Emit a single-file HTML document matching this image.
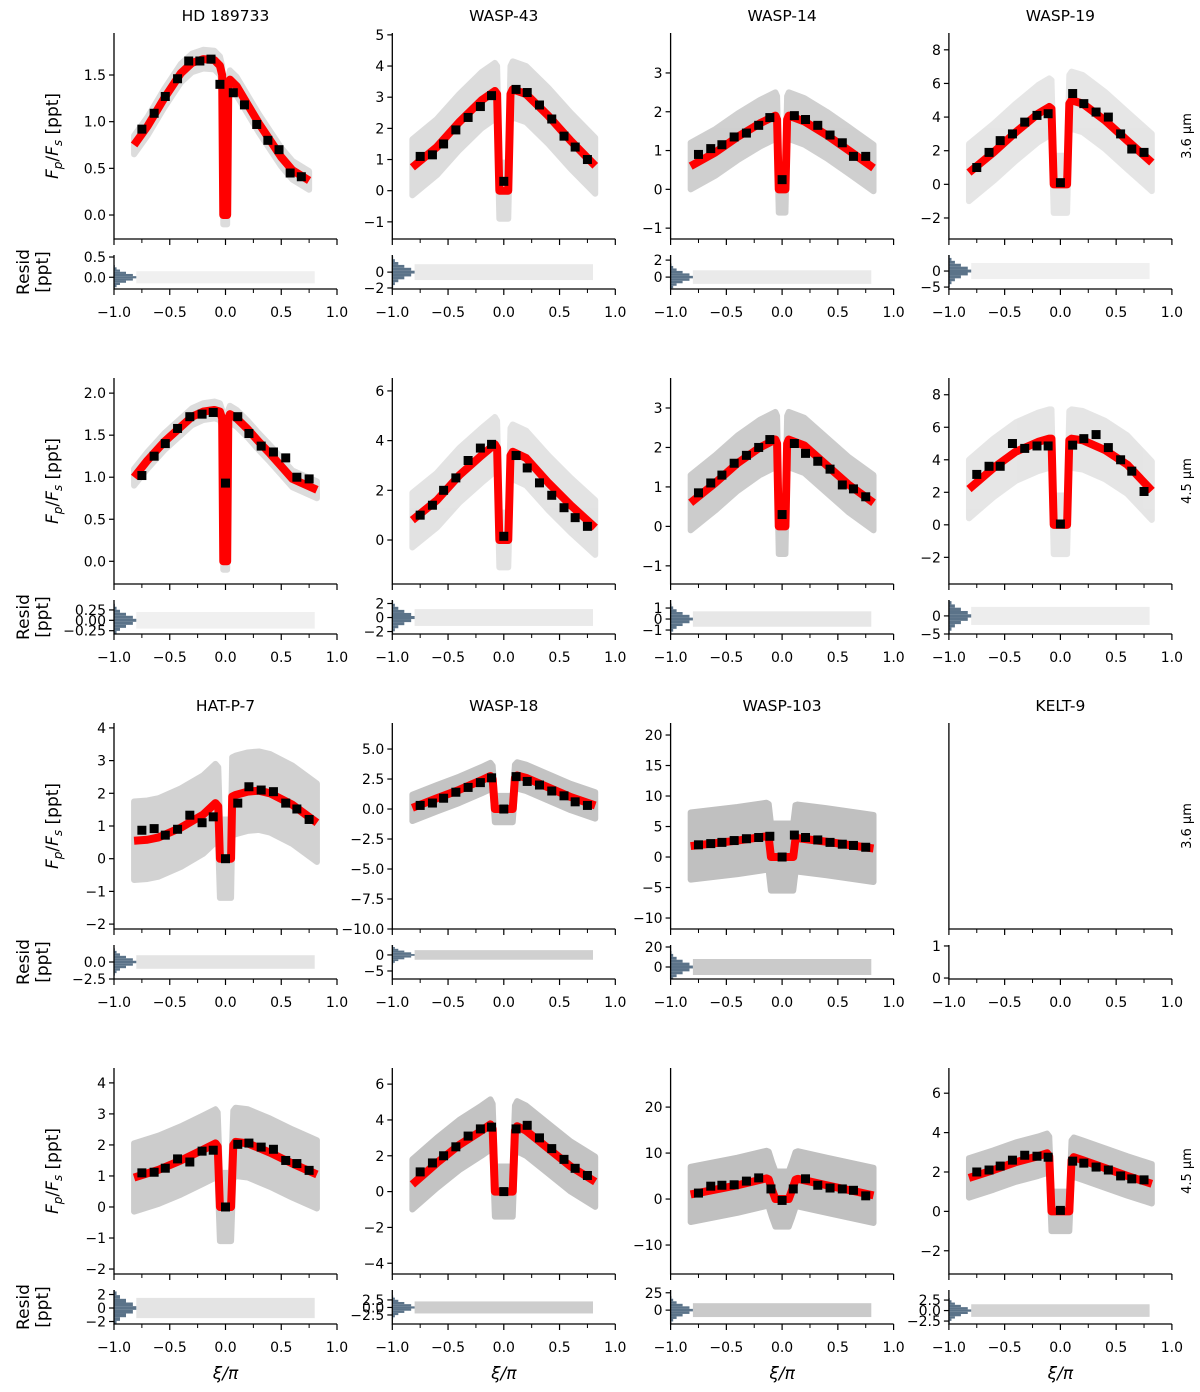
<!DOCTYPE html>
<html><head><meta charset="utf-8">
<style>
html,body{margin:0;padding:0;background:#fff;}
svg{display:block;font-family:"DejaVu Sans","Liberation Sans",sans-serif;}
</style></head>
<body>
<svg id="fig" width="1200" height="1392" viewBox="0 0 1200 1392" xmlns="http://www.w3.org/2000/svg"></svg>
<script>
// ---------- data ----------
const planetNames = ["HD 189733","WASP-43","WASP-14","WASP-19","HD 189733","WASP-43","WASP-14","WASP-19",
                     "HAT-P-7","WASP-18","WASP-103","KELT-9","HAT-P-7","WASP-18","WASP-103","KELT-9"];
const titleTexts = ["HD 189733","WASP-43","WASP-14","WASP-19","","","","","HAT-P-7","WASP-18","WASP-103","KELT-9","","","",""];
const yLimits = [[-0.257,1.95],[-1.55,5.06],[-1.28,4.03],[-3.25,9.0],
                 [-0.27,2.18],[-1.77,6.52],[-1.46,3.76],[-3.64,9.03],
                 [-2.15,4.15],[-10,7.17],[-11.8,21.97],[0,1],
                 [-2.16,4.48],[-4.6,6.9],[-16.3,28.5],[-3.18,7.28]];
const yTicks = [[0,0.5,1,1.5],[-1,0,1,2,3,4,5],[-1,0,1,2,3],[-2,0,2,4,6,8],
                [0,0.5,1,1.5,2],[0,2,4,6],[-1,0,1,2,3],[-2,0,2,4,6,8],
                [-2,-1,0,1,2,3,4],[-10,-7.5,-5,-2.5,0,2.5,5],[-10,-5,0,5,10,15,20],[],
                [-2,-1,0,1,2,3,4],[-4,-2,0,2,4,6],[-10,0,10,20],[-2,0,2,4,6]];
const yDecimals = [1,0,0,0, 1,0,0,0, 0,1,0,0, 0,0,0,0];
const residLimits = [[-0.29,0.55],[-2.13,2.16],[-1.4,2.6],[-5.6,5],
                     [-0.33,0.49],[-2.35,2.5],[-1.36,1.73],[-5,4.4],
                     [-2.5,2.5],[-7.5,3.1],[-12,22],[-0.03,1.03],
                     [-2.37,2.67],[-5.5,5.8],[-20,29],[-3.2,4.9]];
const residTicks = [[0,0.5],[-2,0],[0,2],[-5,0],
                    [-0.25,0,0.25],[-2,0,2],[-1,0,1],[-5,0],
                    [-2.5,0],[-5,0],[0,20],[0,1],
                    [-2,0,2],[-2.5,0,2.5],[0,25],[-2.5,0,2.5]];
const residDecimals = [1,0,0,0, 2,0,0,0, 1,0,0,0, 0,1,0,1];
const modelX = [
 [-0.82,-0.7,-0.55,-0.4,-0.3,-0.2,-0.1,-0.05,-0.03,-0.02,0.015,0.025,0.04,0.1,0.2,0.3,0.4,0.5,0.6,0.75],
 [-0.82,-0.6,-0.4,-0.2,-0.08,-0.06,-0.04,0.04,0.06,0.08,0.2,0.4,0.6,0.82],
 [-0.82,-0.6,-0.4,-0.2,-0.06,-0.045,-0.03,0.03,0.045,0.06,0.2,0.4,0.6,0.82],
 [-0.82,-0.6,-0.4,-0.2,-0.1,-0.08,-0.06,0.06,0.08,0.1,0.2,0.4,0.6,0.82],
 [-0.82,-0.7,-0.55,-0.4,-0.3,-0.2,-0.1,-0.05,-0.03,-0.02,0.015,0.025,0.04,0.1,0.2,0.3,0.4,0.5,0.6,0.82],
 [-0.82,-0.6,-0.4,-0.2,-0.08,-0.06,-0.04,0.04,0.06,0.08,0.2,0.4,0.6,0.82],
 [-0.82,-0.6,-0.4,-0.2,-0.06,-0.045,-0.03,0.03,0.045,0.06,0.2,0.4,0.6,0.82],
 [-0.82,-0.6,-0.4,-0.2,-0.1,-0.08,-0.06,0.06,0.08,0.1,0.2,0.4,0.6,0.82],
 [-0.82,-0.7,-0.6,-0.4,-0.2,-0.09,-0.065,-0.05,0.05,0.06,0.09,0.2,0.3,0.4,0.6,0.82],
 [-0.82,-0.6,-0.4,-0.2,-0.12,-0.1,-0.08,0.08,0.1,0.12,0.2,0.4,0.6,0.82],
 [-0.82,-0.4,-0.14,-0.12,-0.1,0.1,0.12,0.14,0.4,0.82],
 [],
 [-0.82,-0.6,-0.4,-0.2,-0.09,-0.07,-0.05,0.05,0.07,0.09,0.2,0.4,0.6,0.82],
 [-0.82,-0.6,-0.4,-0.2,-0.12,-0.1,-0.08,0.08,0.1,0.12,0.2,0.4,0.6,0.82],
 [-0.82,-0.4,-0.14,-0.12,-0.09,-0.06,0.06,0.09,0.12,0.14,0.4,0.82],
 [-0.82,-0.6,-0.4,-0.2,-0.12,-0.1,-0.08,0.08,0.1,0.12,0.2,0.4,0.6,0.82]];
const modelY = [
 [0.75,0.95,1.25,1.52,1.63,1.67,1.66,1.6,1.5,0.0,0.0,1.38,1.45,1.38,1.18,0.98,0.8,0.62,0.48,0.37],
 [0.75,1.4,2.2,2.9,3.2,3.1,0,0,3.1,3.25,3.1,2.4,1.6,0.8],
 [0.6,0.95,1.35,1.7,1.9,1.8,0,0,1.8,1.9,1.75,1.4,1.0,0.55],
 [0.7,1.9,3.1,4.2,4.6,4.5,0,0,4.8,5.0,4.8,3.8,2.6,1.3],
 [1.0,1.2,1.42,1.6,1.72,1.78,1.8,1.78,1.7,0,0,1.7,1.75,1.7,1.57,1.42,1.28,1.13,0.98,0.85],
 [0.8,1.6,2.6,3.4,3.85,3.7,0,0,3.4,3.55,3.3,2.3,1.4,0.5],
 [0.6,1.1,1.6,2.0,2.2,2.1,0,0,2.1,2.2,2.05,1.55,1.05,0.6],
 [2.2,3.5,4.5,5.1,5.3,5.3,0,0,5.2,5.3,5.2,4.6,3.7,2.1],
 [0.55,0.58,0.65,0.95,1.35,1.7,1.6,0,0,1.9,1.95,2.05,2.08,2.0,1.65,1.1],
 [0.1,0.9,1.6,2.4,2.75,2.5,0,0,2.6,2.8,2.6,1.8,1.0,0.3],
 [1.8,2.7,3.4,3.2,0,0,3.0,3.1,2.5,1.4],
 [],
 [0.95,1.2,1.5,1.85,2.05,1.95,0,0,2.0,2.1,2.05,1.75,1.4,1.05],
 [0.4,1.6,2.6,3.4,3.75,3.5,0,0,3.4,3.65,3.4,2.4,1.4,0.55],
 [1.0,3.0,4.5,4.3,2,0,0,2,4.2,4.4,3.0,0.8],
 [1.7,2.1,2.5,2.8,2.95,2.8,0,0,2.6,2.75,2.6,2.2,1.8,1.4]];
const binXUniform = [-0.75,-0.64,-0.54,-0.43,-0.32,-0.21,-0.11,0,0.11,0.21,0.32,0.43,0.54,0.64,0.75];
const binXHD = [-0.75,-0.64,-0.54,-0.43,-0.33,-0.23,-0.13,-0.05,0.07,0.17,0.28,0.38,0.48,0.58,0.68];
const binXW103 = [-0.75,-0.64,-0.54,-0.43,-0.32,-0.21,-0.1,0,0.1,0.21,0.32,0.43,0.54,0.64,0.75];
const binY = [
 [0.92,1.09,1.27,1.46,1.65,1.65,1.67,1.40,1.31,1.18,0.97,0.80,0.70,0.45,0.41],
 [1.1,1.15,1.5,1.95,2.35,2.7,3.05,0.3,3.25,3.15,2.75,2.3,1.75,1.4,1.0],
 [0.9,1.05,1.15,1.35,1.45,1.65,1.85,0.25,1.9,1.8,1.65,1.4,1.2,0.85,0.85],
 [1.0,1.9,2.6,3.0,3.7,4.1,4.2,0.1,5.4,4.8,4.3,4.0,3.0,2.1,1.9],
 [1.02,1.25,1.40,1.58,1.72,1.75,1.77,0.93,1.72,1.52,1.37,1.30,1.23,1.0,0.98],
 [1.0,1.4,2.0,2.5,3.2,3.7,3.85,0.15,3.4,2.9,2.3,1.8,1.3,0.9,0.55],
 [0.85,1.1,1.3,1.6,1.8,2.0,2.2,0.3,2.1,1.85,1.65,1.45,1.05,0.95,0.75],
 [3.1,3.6,3.6,5.0,4.7,4.85,4.85,0.05,4.9,5.3,5.55,4.75,4.0,3.3,2.05],
 [0.87,0.92,0.72,0.9,1.33,1.1,1.28,0.0,1.7,2.2,2.1,2.05,1.7,1.52,1.2],
 [0.3,0.5,0.9,1.4,1.8,2.2,2.6,0.0,2.7,2.3,2.0,1.5,1.1,0.6,0.3],
 [2.0,2.2,2.4,2.7,3.0,3.2,3.4,0.0,3.6,3.2,2.8,2.4,2.1,1.9,1.6],
 [],
 [1.1,1.12,1.25,1.55,1.45,1.8,1.83,0.0,2.02,2.06,1.93,1.86,1.5,1.4,1.18],
 [1.1,1.6,2.0,2.5,3.1,3.5,3.6,0.0,3.5,3.7,3.0,2.4,1.8,1.3,0.9],
 [1.3,2.8,3.0,3.1,3.9,4.6,2.2,-0.3,2.2,4.4,3.0,2.4,2.2,1.9,0.7],
 [2.0,2.1,2.3,2.6,2.85,2.8,2.75,0.05,2.55,2.45,2.25,2.1,1.8,1.65,1.6]];
const binXChoice = [binXHD,binXUniform,binXUniform,binXUniform,binXUniform,binXUniform,binXUniform,binXUniform,
                    binXUniform,binXUniform,binXUniform,[],binXUniform,binXUniform,binXW103,binXUniform];
const scatterSpread = [0.1,0.9,0.6,1.7,0.1,1.1,0.7,1.8,1.2,1.1,5.5,0,1.1,1.4,6,1.0];
const scatterOpacity = [0.55,0.55,0.75,0.4,0.55,0.45,0.8,0.4,0.7,0.95,1,0,0.8,0.95,1,0.9];
const residSpread = [0.15,1.0,0.8,2.5,0.2,1.2,0.7,2.5,1.0,1.5,8,0,1.5,2.0,10,1.5];
const residOpacity = [0.25,0.35,0.35,0.25,0.25,0.35,0.4,0.3,0.45,0.8,0.9,0,0.45,0.85,0.9,0.75];
const histCounts = [1,3,7,14,22,26,22,14,7,3,1];
const xTickValues = [-1,-0.5,0,0.5,1];
const xMinorValues = [-0.75,-0.25,0.25,0.75];
const rowWavelength = ["3.6 μm","4.5 μm","3.6 μm","4.5 μm"];

// ---------- layout ----------
const NS = "http://www.w3.org/2000/svg";
const svg = document.getElementById("fig");
const W = 223;
function colLeft(c){ return 114 + 278.3*c; }
function mainTop(r){ return 33 + 345*r; }
function mainBot(r){ return 239 + 345*r; }
function resTop(r){ return 255 + 345*r; }
function resBot(r){ return 289 + 345*r; }
function mk(tag, attrs, parent){
  const e = document.createElementNS(NS, tag);
  for (const k in attrs) e.setAttribute(k, attrs[k]);
  (parent||svg).appendChild(e);
  return e;
}
function fmt(v, d){ const s = Math.abs(v).toFixed(d); return (v < 0 ? "\u2212" : "") + s; }

for (let p = 0; p < 16; p++){
  const r = Math.floor(p/4), c = p % 4;
  const L = colLeft(c), R = L + W;
  const g = mk("g", {});
  
  
  const xs = x => L + (x + 1) / 2 * W;
  const yl = yLimits[p];
  const ys = y => mainBot(r) - (y - yl[0]) / (yl[1] - yl[0]) * (mainBot(r) - mainTop(r));
  const rl = residLimits[p];
  const yr = y => resBot(r) - (y - rl[0]) / (rl[1] - rl[0]) * (resBot(r) - resTop(r));

  const cid = "clip" + p;
  const cp = mk("clipPath", {id: cid}, g);
  mk("rect", {x: L, y: mainTop(r), width: W, height: mainBot(r) - mainTop(r)}, cp);

  const mxs = modelX[p], mys = modelY[p];
  if (mxs.length){
    let up = [], dn = [];
    for (let i = 0; i < mxs.length; i++){
      up.push(xs(mxs[i]) + "," + ys(mys[i] + scatterSpread[p]));
      dn.unshift(xs(mxs[i]) + "," + ys(mys[i] - scatterSpread[p]));
    }
    const bg = mk("g", {opacity: scatterOpacity[p], "clip-path": "url(#" + cid + ")"}, g);
    const band = mk("polygon", {points: up.concat(dn).join(" "), fill: "#c0c0c0", stroke: "#c0c0c0", "stroke-width": 6, "stroke-linejoin": "round"}, bg);
    
    
    const pts = mxs.map((x, i) => xs(x) + "," + ys(mys[i])).join(" ");
    const line = mk("polyline", {points: pts, fill: "none", stroke: "#ff0000", "stroke-width": 8, "stroke-linejoin": "round", "stroke-linecap": "butt"}, g);
    
    
    const bx = binXChoice[p], by = binY[p];
    for (let i = 0; i < by.length; i++){
      const s = mk("rect", {x: xs(bx[i]) - 4.5, y: ys(by[i]) - 4.5, width: 9, height: 9, fill: "#000"}, g);
      
      
    }
  }

  const ax = mk("path", {d: `M${L},${mainTop(r)} L${L},${mainBot(r)} L${R},${mainBot(r)}`, fill: "none", stroke: "#000", "stroke-width": 1.3}, g);
  
  
  yTicks[p].forEach(v => {
    const y = ys(v);
    mk("line", {x1: L - 5, x2: L, y1: y, y2: y, stroke: "#000", "stroke-width": 1.2}, g);
    const t = mk("text", {x: L - 8, y: y + 5, "text-anchor": "end", "font-size": 14}, g);
    t.textContent = fmt(v, yDecimals[p]);
    
    
  });
  [mainBot(r), resBot(r)].forEach(yb => {
    xTickValues.forEach(v => mk("line", {x1: xs(v), x2: xs(v), y1: yb, y2: yb + 6, stroke: "#000", "stroke-width": 1.2}, g));
    xMinorValues.forEach(v => mk("line", {x1: xs(v), x2: xs(v), y1: yb, y2: yb + 4, stroke: "#000", "stroke-width": 1}, g));
  });

  if (residSpread[p] > 0){
    const rb = mk("rect", {x: xs(-0.8), y: yr(residSpread[p]), width: xs(0.8) - xs(-0.8), height: yr(-residSpread[p]) - yr(residSpread[p]), fill: "#c4c4c4", "fill-opacity": residOpacity[p]}, g);
    
    
    const maxC = Math.max(...histCounts);
    const nb = histCounts.length;
    const span = 4 * residSpread[p];
    for (let i = 0; i < nb; i++){
      const v0 = -span/2 + i * span / nb, v1 = v0 + span / nb;
      const y0 = Math.max(yr(v1), resTop(r)), y1 = Math.min(yr(v0), resBot(r));
      if (y1 <= y0) continue;
      const hb = mk("rect", {x: L, y: y0, width: histCounts[i] / maxC * (xs(-0.8) - L), height: y1 - y0, fill: "#5b7389"}, g);
      
      
    }
  }
  const rax = mk("path", {d: `M${L},${resTop(r)} L${L},${resBot(r)} L${R},${resBot(r)}`, fill: "none", stroke: "#000", "stroke-width": 1.3}, g);
  
  
  residTicks[p].forEach(v => {
    const y = yr(v);
    mk("line", {x1: L - 5, x2: L, y1: y, y2: y, stroke: "#000", "stroke-width": 1.2}, g);
    const t = mk("text", {x: L - 8, y: y + 5, "text-anchor": "end", "font-size": 14}, g);
    t.textContent = fmt(v, residDecimals[p]);
    
    
  });
  xTickValues.forEach(v => {
    const t = mk("text", {x: xs(v), y: resBot(r) + 28, "text-anchor": "middle", "font-size": 14}, g);
    t.textContent = fmt(v, 1);
    
    
  });

  if (titleTexts[p]){
    const t = mk("text", {x: L + W/2, y: mainTop(r) - 12, "text-anchor": "middle", "font-size": 15.5}, g);
    t.textContent = titleTexts[p];
    
    
  }
  if (c === 0){
    const cy = (mainTop(r) + mainBot(r)) / 2;
    const t = mk("text", {x: 0, y: 0, transform: `translate(58,${cy}) rotate(-90)`, "text-anchor": "middle", "font-size": 17}, g);
    t.innerHTML = '<tspan font-style="italic">F</tspan><tspan font-style="italic" font-size="12" dy="4">p</tspan><tspan dy="-4">/</tspan><tspan font-style="italic">F</tspan><tspan font-style="italic" font-size="12" dy="4">s</tspan><tspan dy="-4"> [ppt]</tspan>';
    
    
    const ry = (resTop(r) + resBot(r)) / 2;
    const t2 = mk("text", {x: 0, y: 0, transform: `translate(29,${ry}) rotate(-90)`, "text-anchor": "middle", "font-size": 17}, g);
    t2.textContent = "Resid";
    
    
    const t3 = mk("text", {x: 0, y: 0, transform: `translate(48,${ry}) rotate(-90)`, "text-anchor": "middle", "font-size": 17}, g);
    t3.textContent = "[ppt]";
    
    
  }
  if (c === 3){
    const cy = (mainTop(r) + mainBot(r)) / 2;
    const t = mk("text", {x: 0, y: 0, transform: `translate(1191,${cy}) rotate(-90)`, "text-anchor": "middle", "font-size": 13}, g);
    t.textContent = rowWavelength[r];
    
    
  }
  if (r === 3){
    const t = mk("text", {x: L + W/2, y: 1379, "text-anchor": "middle", "font-size": 17, "font-style": "italic"}, g);
    t.textContent = "ξ/π";
    
    
  }
}
</script>
</body></html>
